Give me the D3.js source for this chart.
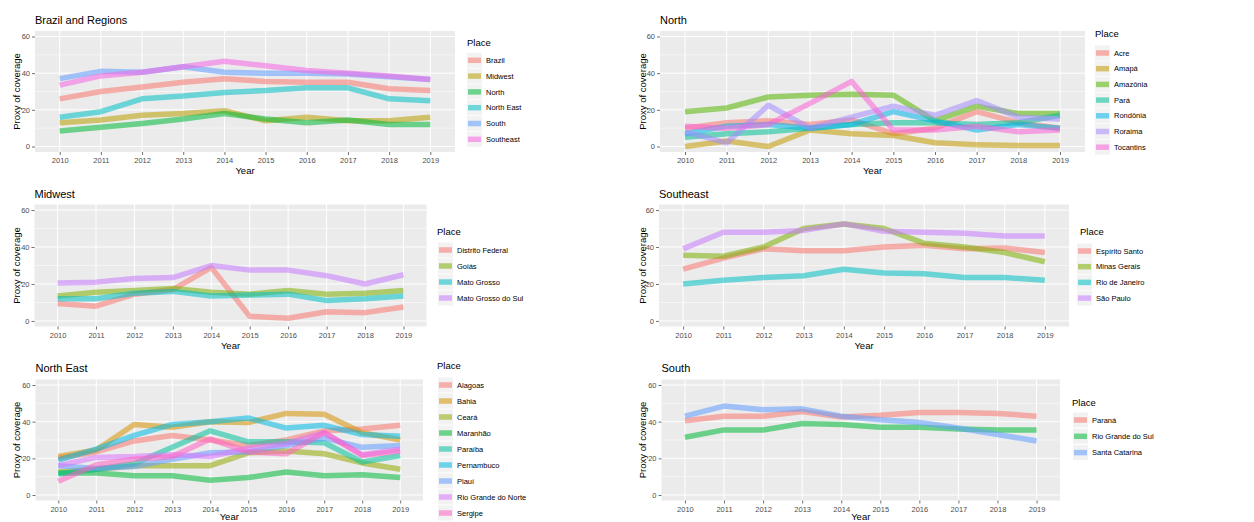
<!DOCTYPE html>
<html><head><meta charset="utf-8">
<script src="https://cdn.jsdelivr.net/npm/d3@7"></script>
<style>body{margin:0;background:#fff}svg{display:block}text{font-family:"Liberation Sans",Arial,sans-serif}</style>
</head><body>
<svg id="c" width="1254" height="522"></svg>
<script>
// ---------- data ----------
const years = [2010,2011,2012,2013,2014,2015,2016,2017,2018,2019];
const yTicks = [0,20,40,60];

const brazilPlaces = ["Brazil","Midwest","North","North East","South","Southeast"];
const brazilValues = [
  [26,30,32.5,35,37,35.5,35,35,31.5,30.5],
  [13,14.5,17,18,19.5,14,16,14,14,16],
  [8.5,10.5,12.5,15,18,15,13,14.5,12,12],
  [16,19,26,27.5,29.5,30.5,32,32,26,25],
  [37,41,40.5,43.5,40.5,40,40,39.5,38,36.5],
  [33.5,38.5,40.5,43.5,46.5,44,41.5,40,38.5,36.5]
];
const northPlaces = ["Acre","Amapá","Amazônia","Pará","Rondônia","Roraima","Tocantins"];
const northValues = [
  [10,13,14,12,14.5,7,10,19,13,10],
  [0,3,0,9,7,6,2,1,0.5,0.5],
  [19,21,27,28,28.5,28,14,22,18,18],
  [5,7,8,10,12,13,13,12,13,17],
  [7,11,12,10,12,19,14,9,12,10],
  [8,2,22.5,10,16,22,17,25,16,15],
  [11,10,12,23.5,35.5,9,9,11,8,9]
];
const midwestPlaces = ["Distrito Federal","Goiás","Mato Grosso","Mato Grosso do Sul"];
const midwestValues = [
  [9.5,8,14.5,17,29,2.5,1.5,5,4.5,7.5],
  [13.5,15.5,16.5,17.5,15.5,14.5,16.5,14.5,15,16.5],
  [12,12,15,16,13.5,14,14.5,11,12,13.5],
  [20.5,21,23,23.5,30,27.5,27.5,24.5,20,25]
];
const southeastPlaces = ["Espírito Santo","Minas Gerais","Rio de Janeiro","São Paulo"];
const southeastValues = [
  [28,34,39,38,38,40,41,39,39.5,37],
  [35.5,35,40,50,52.5,50,42,40,37,32],
  [20,22,23.5,24.5,28,26,25.5,23.5,23.5,22],
  [39,48,48,49,52.5,48.5,48,47.5,46,46]
];
const northEastPlaces = ["Alagoas","Bahia","Ceará","Maranhão","Paraíba","Pernambuco","Piauí","Rio Grande do Norte","Sergipe"];
const northEastValues = [
  [20,23.5,29.5,32.5,30,27,30,35,36,38],
  [21,24.5,38.5,37,40,39.5,44.5,44,34,30],
  [12.5,14,16,16,16,23,24,22.5,17.5,14],
  [12,12,10.5,10.5,8,9.5,12.5,10.5,11,9.5],
  [11.5,14,17,26,35,29,29,28.5,18,21.5],
  [19,25,32.5,38.5,40,42,36.5,38,33,32],
  [16,14.5,15.5,19.5,23,23.5,27,31,26,27],
  [16,20.5,21,22,21,25.5,28,34,22,25],
  [7.5,16.5,19.5,21,30.5,23.5,22.5,34,21.5,24]
];
const southPlaces = ["Paraná","Rio Grande do Sul","Santa Catarina"];
const southValues = [
  [40.5,43,43,45.5,42.5,43.5,45,45,44.5,43],
  [31.5,35.5,35.5,39,38.5,37,37,36,35.5,35.5],
  [43,48.5,46.5,47,43,41,39.5,36.5,33,29.5]
];

// ---------- styles / layout ----------
const pal3 = ["#F8766D","#00BA38","#619CFF"];
const pal4 = ["#F8766D","#7CAE00","#00BFC4","#C77CFF"];
const pal6 = ["#F8766D","#B79F00","#00BA38","#00BFC4","#619CFF","#F564E3"];
const pal7 = ["#F8766D","#C49A00","#53B400","#00C094","#00B6EB","#A58AFF","#FB61D7"];
const pal9 = ["#F8766D","#D39200","#93AA00","#00BA38","#00C19F","#00B9E3","#619CFF","#DB72FB","#FF61C3"];

const panels = [
  {title:"Brazil and Regions", places:brazilPlaces, values:brazilValues, colors:pal6,
   x0:35, x1:455, y0:31, y1:152, titleY:24, axisX:17,
   lg:{tx:467, ty:46, kx:467, lx:486, iy:60.3, step:15.8}},
  {title:"North", places:northPlaces, values:northValues, colors:pal7,
   x0:660, x1:1085, y0:31, y1:152, titleY:24, axisX:643,
   lg:{tx:1095, ty:37, kx:1095, lx:1114, iy:53, step:15.7}},
  {title:"Midwest", places:midwestPlaces, values:midwestValues, colors:pal4,
   x0:34.5, x1:426.5, y0:204.5, y1:326.5, titleY:198, axisX:17,
   lg:{tx:437, ty:235, kx:438, lx:457, iy:250, step:16}},
  {title:"Southeast", places:southeastPlaces, values:southeastValues, colors:pal4,
   x0:659, x1:1069, y0:204.5, y1:326.5, titleY:198, axisX:643,
   lg:{tx:1080, ty:235, kx:1077, lx:1096, iy:251, step:15.7}},
  {title:"North East", places:northEastPlaces, values:northEastValues, colors:pal9,
   x0:35.5, x1:423, y0:379.5, y1:500.5, titleY:372, axisX:17,
   lg:{tx:437, ty:369, kx:438, lx:457, iy:385, step:16}},
  {title:"South", places:southPlaces, values:southValues, colors:pal3,
   x0:661.5, x1:1060, y0:379.5, y1:500.5, titleY:372, axisX:643,
   lg:{tx:1072, ty:406, kx:1073, lx:1092, iy:420, step:16.3}}
];

const svg = d3.select("#c");
const LW = 5.5, ALPHA = 0.55;

panels.forEach(p => {
  const x = d3.scaleLinear().domain([2009.4, 2019.6]).range([p.x0, p.x1]);
  const y = d3.scaleLinear().domain([-3, 63]).range([p.y1, p.y0]);
  const g = svg.append("g");

  g.append("rect").attr("x", p.x0).attr("y", p.y0)
    .attr("width", p.x1 - p.x0).attr("height", p.y1 - p.y0).attr("fill", "#EBEBEB");

  [10,30,50].forEach(v => g.append("line").attr("x1", p.x0).attr("x2", p.x1)
    .attr("y1", y(v)).attr("y2", y(v)).attr("stroke", "#fff").attr("stroke-width", 0.5));
  yTicks.forEach(v => g.append("line").attr("x1", p.x0).attr("x2", p.x1)
    .attr("y1", y(v)).attr("y2", y(v)).attr("stroke", "#fff").attr("stroke-width", 1));
  years.forEach(v => g.append("line").attr("y1", p.y0).attr("y2", p.y1)
    .attr("x1", x(v)).attr("x2", x(v)).attr("stroke", "#fff").attr("stroke-width", 1));

  const ax = g.append("g").attr("transform", `translate(0,${p.y1})`)
    .call(d3.axisBottom(x).tickValues(years).tickFormat(d3.format("d")).tickSize(3).tickPadding(3));
  const ay = g.append("g").attr("transform", `translate(${p.x0},0)`)
    .call(d3.axisLeft(y).tickValues(yTicks).tickSize(3).tickPadding(2));
  [ax, ay].forEach(a => {
    a.select(".domain").remove();
    a.selectAll(".tick line").attr("stroke", "#333").attr("stroke-width", 0.7);
    a.selectAll(".tick text").attr("fill", "#4D4D4D").style("font-size", "7.5px")
      .style("font-family", "'Liberation Sans',Arial,sans-serif");
  });

  const line = d3.line().x((d, i) => x(years[i])).y(d => y(d));
  p.values.forEach((vals, k) => {
    g.append("path").attr("d", line(vals)).attr("fill", "none")
      .attr("stroke", p.colors[k]).attr("stroke-opacity", ALPHA)
      .attr("stroke-width", LW).attr("stroke-linejoin", "round");
  });

  g.append("text").attr("x", p.x0).attr("y", p.titleY).text(p.title)
    .style("font-size", "11px").attr("fill", "#000");
  g.append("text").attr("x", (p.x0 + p.x1) / 2).attr("y", Math.min(p.y1 + 22, 519.5))
    .attr("text-anchor", "middle").text("Year").style("font-size", "9.5px").attr("fill", "#000");
  g.append("text").attr("transform", `translate(${p.axisX},${(p.y0 + p.y1) / 2}) rotate(-90)`)
    .attr("text-anchor", "middle").attr("dy", "0.35em").text("Proxy of coverage")
    .style("font-size", "9.5px").attr("fill", "#000");

  const L = p.lg;
  g.append("text").attr("x", L.tx).attr("y", L.ty).text("Place")
    .style("font-size", "9.5px").attr("fill", "#000");
  p.places.forEach((name, k) => {
    const cy = L.iy + k * L.step;
    g.append("rect").attr("x", L.kx).attr("y", cy - 7.5).attr("width", 15).attr("height", 15)
      .attr("fill", "#F2F2F2");
    g.append("line").attr("x1", L.kx + 1).attr("x2", L.kx + 14).attr("y1", cy).attr("y2", cy)
      .attr("stroke", p.colors[k]).attr("stroke-opacity", ALPHA).attr("stroke-width", LW);
    g.append("text").attr("x", L.lx).attr("y", cy).attr("dy", "0.35em").text(name)
      .style("font-size", "7.5px").attr("fill", "#000");
  });
});
</script>
</body></html>
